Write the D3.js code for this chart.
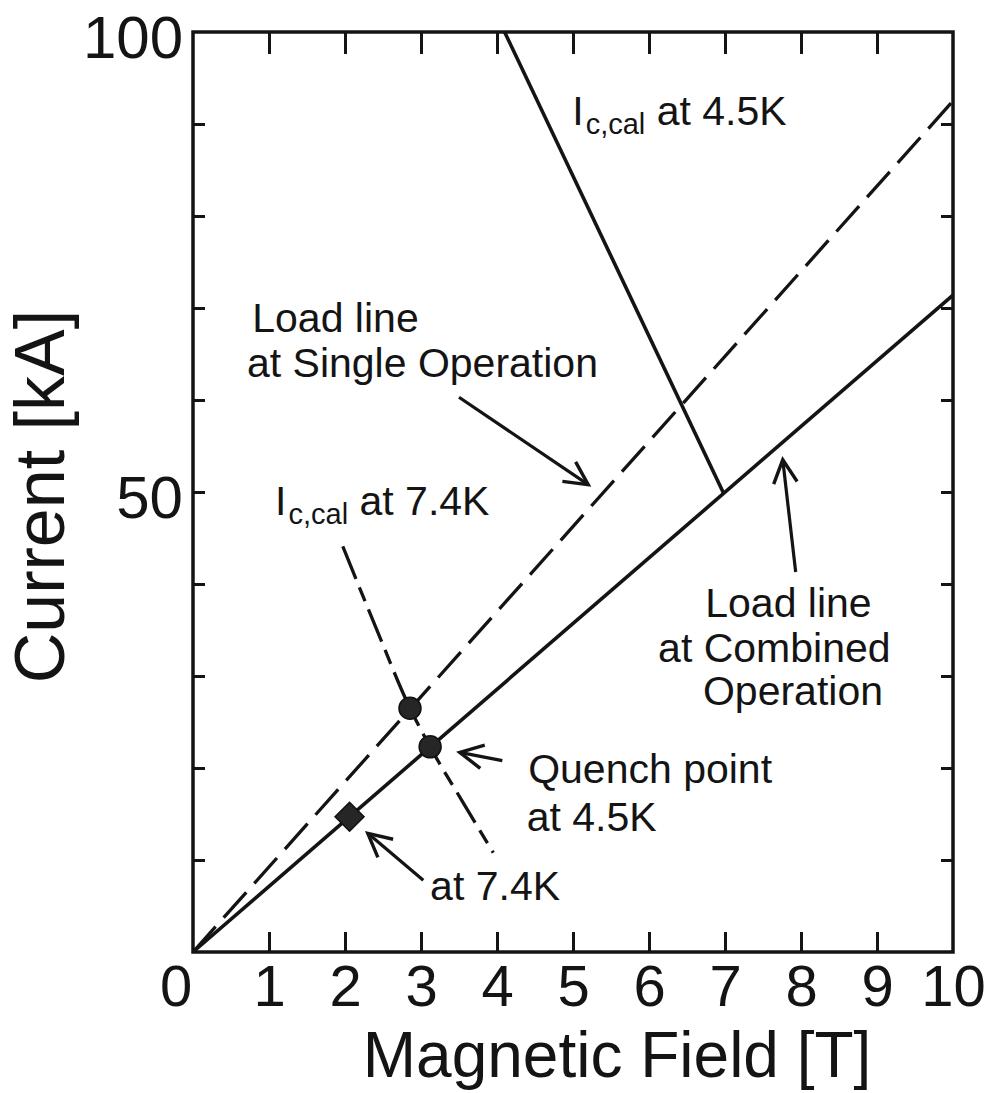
<!DOCTYPE html>
<html>
<head>
<meta charset="utf-8">
<script src="https://cdn.jsdelivr.net/npm/d3@7"></script>
<style>
  html, body { margin: 0; padding: 0; background: #fff; }
  svg { display: block; font-family: "Liberation Sans", Arial, Helvetica, sans-serif; }
</style>
</head>
<body>
<svg id="chart" width="990" height="1093"></svg>
<script>
// Axis ticks
const xTicks = [0, 1, 2, 3, 4, 5, 6, 7, 8, 9, 10];
const yTicks = [10, 20, 30, 40, 50, 60, 70, 80, 90, 100];
const yLabelled = [50, 100];

// Lines: [field (T), current (kA)]
const combinedLoad = [[0, 0], [10, 71.4]];
const singleLoad = [[0, 0], [10, 92.5]];
const icCal45 = [[4.1, 100], [6.98, 49.9]];
const icCal74 = [[1.97, 44.1], [2.40, 35.4], [2.855, 26.5], [3.12, 22.3], [3.55, 16.3], [3.95, 10.8]];

// Marked points
const markerField = [2.855, 3.12, 2.06];
const markerCurrent = [26.5, 22.3, 14.7];
const markerShape = ["circle", "circle", "diamond"];

// Annotation arrows: tail -> tip, in data units
const arrows = [
  { from: [3.50, 60.3], to: [5.20, 50.8] },
  { from: [7.93, 41.3], to: [7.76, 53.5] },
  { from: [4.07, 20.8], to: [3.51, 21.7] },
  { from: [3.03, 7.8], to: [2.30, 12.9] }
];

// Plain text annotations, anchored at data coordinates
const notes = [
  { text: "Load line", at: [0.78, 67.4] },
  { text: "at Single Operation", at: [0.71, 62.5] },
  { text: "Load line", at: [6.74, 36.4] },
  { text: "at Combined", at: [6.12, 31.5] },
  { text: "Operation", at: [6.71, 26.8] },
  { text: "Quench point", at: [4.41, 18.4] },
  { text: "at 4.5K", at: [4.39, 13.2] },
  { text: "at 7.4K", at: [3.12, 5.65] }
];
// Critical current labels with subscript
const icNotes = [
  { sub: "c,cal", rest: "at 4.5K", at: [4.99, 89.9] },
  { sub: "c,cal", rest: "at 7.4K", at: [1.08, 47.5] }
];

const margin = { top: 32, left: 193 };
const width = 760, height = 920;
const ink = "#141414";

const svg = d3.select("#chart");
const g = svg.append("g").attr("transform", `translate(${margin.left},${margin.top})`);

const x = d3.scaleLinear().domain([0, 10]).range([0, width]);
const y = d3.scaleLinear().domain([0, 100]).range([height, 0]);

// Axes: ticks drawn inward on all four sides
const styleAxis = sel => {
  sel.select(".domain").remove();
  sel.selectAll(".tick line").attr("stroke", ink).attr("stroke-width", 3);
  sel.selectAll(".tick text").attr("fill", ink);
};

const xb = g.append("g").attr("transform", `translate(0,${height})`)
  .call(d3.axisBottom(x).tickValues(xTicks).tickSize(-20).tickPadding(13).tickFormat(d3.format("d")))
  .attr("font-size", 58).attr("font-family", null);
styleAxis(xb);
xb.selectAll(".tick").filter(d => d === 0 || d === 10).select("line").remove();
xb.selectAll(".tick").filter(d => d === 0).select("text").attr("dx", "-0.3em");

const xt = g.append("g")
  .call(d3.axisTop(x).tickValues(xTicks.slice(1, -1)).tickSize(-22).tickFormat(""));
styleAxis(xt);

const yl = g.append("g")
  .call(d3.axisLeft(y).tickValues(yTicks).tickSize(-12).tickPadding(10)
    .tickFormat(d => yLabelled.includes(d) ? d : ""))
  .attr("font-size", 60).attr("font-family", null);
styleAxis(yl);
yl.selectAll(".tick text").attr("dy", "0.43em");
yl.selectAll(".tick").filter(d => d === 100).select("line").remove();

const yr = g.append("g").attr("transform", `translate(${width},0)`)
  .call(d3.axisRight(y).tickValues(yTicks.slice(0, -1)).tickSize(-12).tickFormat(""));
styleAxis(yr);

// Frame
g.append("rect").attr("x", 0).attr("y", 0).attr("width", width).attr("height", height)
  .attr("fill", "none").attr("stroke", ink).attr("stroke-width", 3.5);

// Axis titles
svg.append("text")
  .attr("x", margin.left + x(5.58)).attr("y", 1077)
  .attr("text-anchor", "middle").attr("font-size", 64).attr("fill", ink)
  .text("Magnetic Field [T]");
svg.append("text")
  .attr("transform", `translate(64,${margin.top + y(49.5)}) rotate(-90)`)
  .attr("text-anchor", "middle").attr("font-size", 70).attr("fill", ink)
  .text("Current [kA]");

// Curves
const line = d3.line().x(d => x(d[0])).y(d => y(d[1]));
const curve = d3.line().x(d => x(d[0])).y(d => y(d[1])).curve(d3.curveMonotoneX);

g.append("path").datum(combinedLoad).attr("d", line)
  .attr("fill", "none").attr("stroke", ink).attr("stroke-width", 3.6);
g.append("path").datum(singleLoad).attr("d", line)
  .attr("fill", "none").attr("stroke", ink).attr("stroke-width", 3.3)
  .attr("stroke-dasharray", "34,12");
g.append("path").datum(icCal45).attr("d", line)
  .attr("fill", "none").attr("stroke", ink).attr("stroke-width", 3.6);
g.append("path").datum(icCal74).attr("d", curve)
  .attr("fill", "none").attr("stroke", ink).attr("stroke-width", 3.3)
  .attr("stroke-dasharray", "35,9,15,9");

// Markers
const markers = markerField.map((b, i) => ({ b, c: markerCurrent[i], shape: markerShape[i] }));
g.selectAll(".mk").data(markers).enter().append("path")
  .attr("class", "mk")
  .attr("d", d => d.shape === "circle"
    ? d3.symbol(d3.symbolCircle, 380)()
    : d3.symbol(d3.symbolSquare, 420)())
  .attr("transform", d => `translate(${x(d.b)},${y(d.c)})` + (d.shape === "diamond" ? " rotate(45)" : ""))
  .attr("fill", "#262626").attr("stroke", "#111").attr("stroke-width", 1.5);

// Arrows with open heads
arrows.forEach(a => {
  const x0 = x(a.from[0]), y0 = y(a.from[1]);
  const x1 = x(a.to[0]), y1 = y(a.to[1]);
  const ang = Math.atan2(y0 - y1, x0 - x1);
  const len = 26, spread = 27 * Math.PI / 180;
  g.append("line").attr("x1", x0).attr("y1", y0).attr("x2", x1).attr("y2", y1)
    .attr("stroke", ink).attr("stroke-width", 3.2);
  const head = [
    [x1 + len * Math.cos(ang - spread), y1 + len * Math.sin(ang - spread)],
    [x1, y1],
    [x1 + len * Math.cos(ang + spread), y1 + len * Math.sin(ang + spread)]
  ];
  g.append("path").attr("d", d3.line()(head))
    .attr("fill", "none").attr("stroke", ink).attr("stroke-width", 3.4)
    .attr("stroke-linejoin", "miter");
});

// Text annotations
g.selectAll(".note").data(notes).enter().append("text")
  .attr("class", "note")
  .attr("x", d => x(d.at[0])).attr("y", d => y(d.at[1]))
  .attr("font-size", 41).attr("fill", ink)
  .text(d => d.text);

icNotes.forEach(n => {
  const t = g.append("text")
    .attr("x", x(n.at[0])).attr("y", y(n.at[1]))
    .attr("font-size", 41).attr("fill", ink);
  t.append("tspan").text("I");
  t.append("tspan").attr("font-size", 29).attr("dy", 9).attr("dx", 2).text(n.sub);
  t.append("tspan").attr("dy", -9).text(" " + n.rest);
});
</script>
</body>
</html>
